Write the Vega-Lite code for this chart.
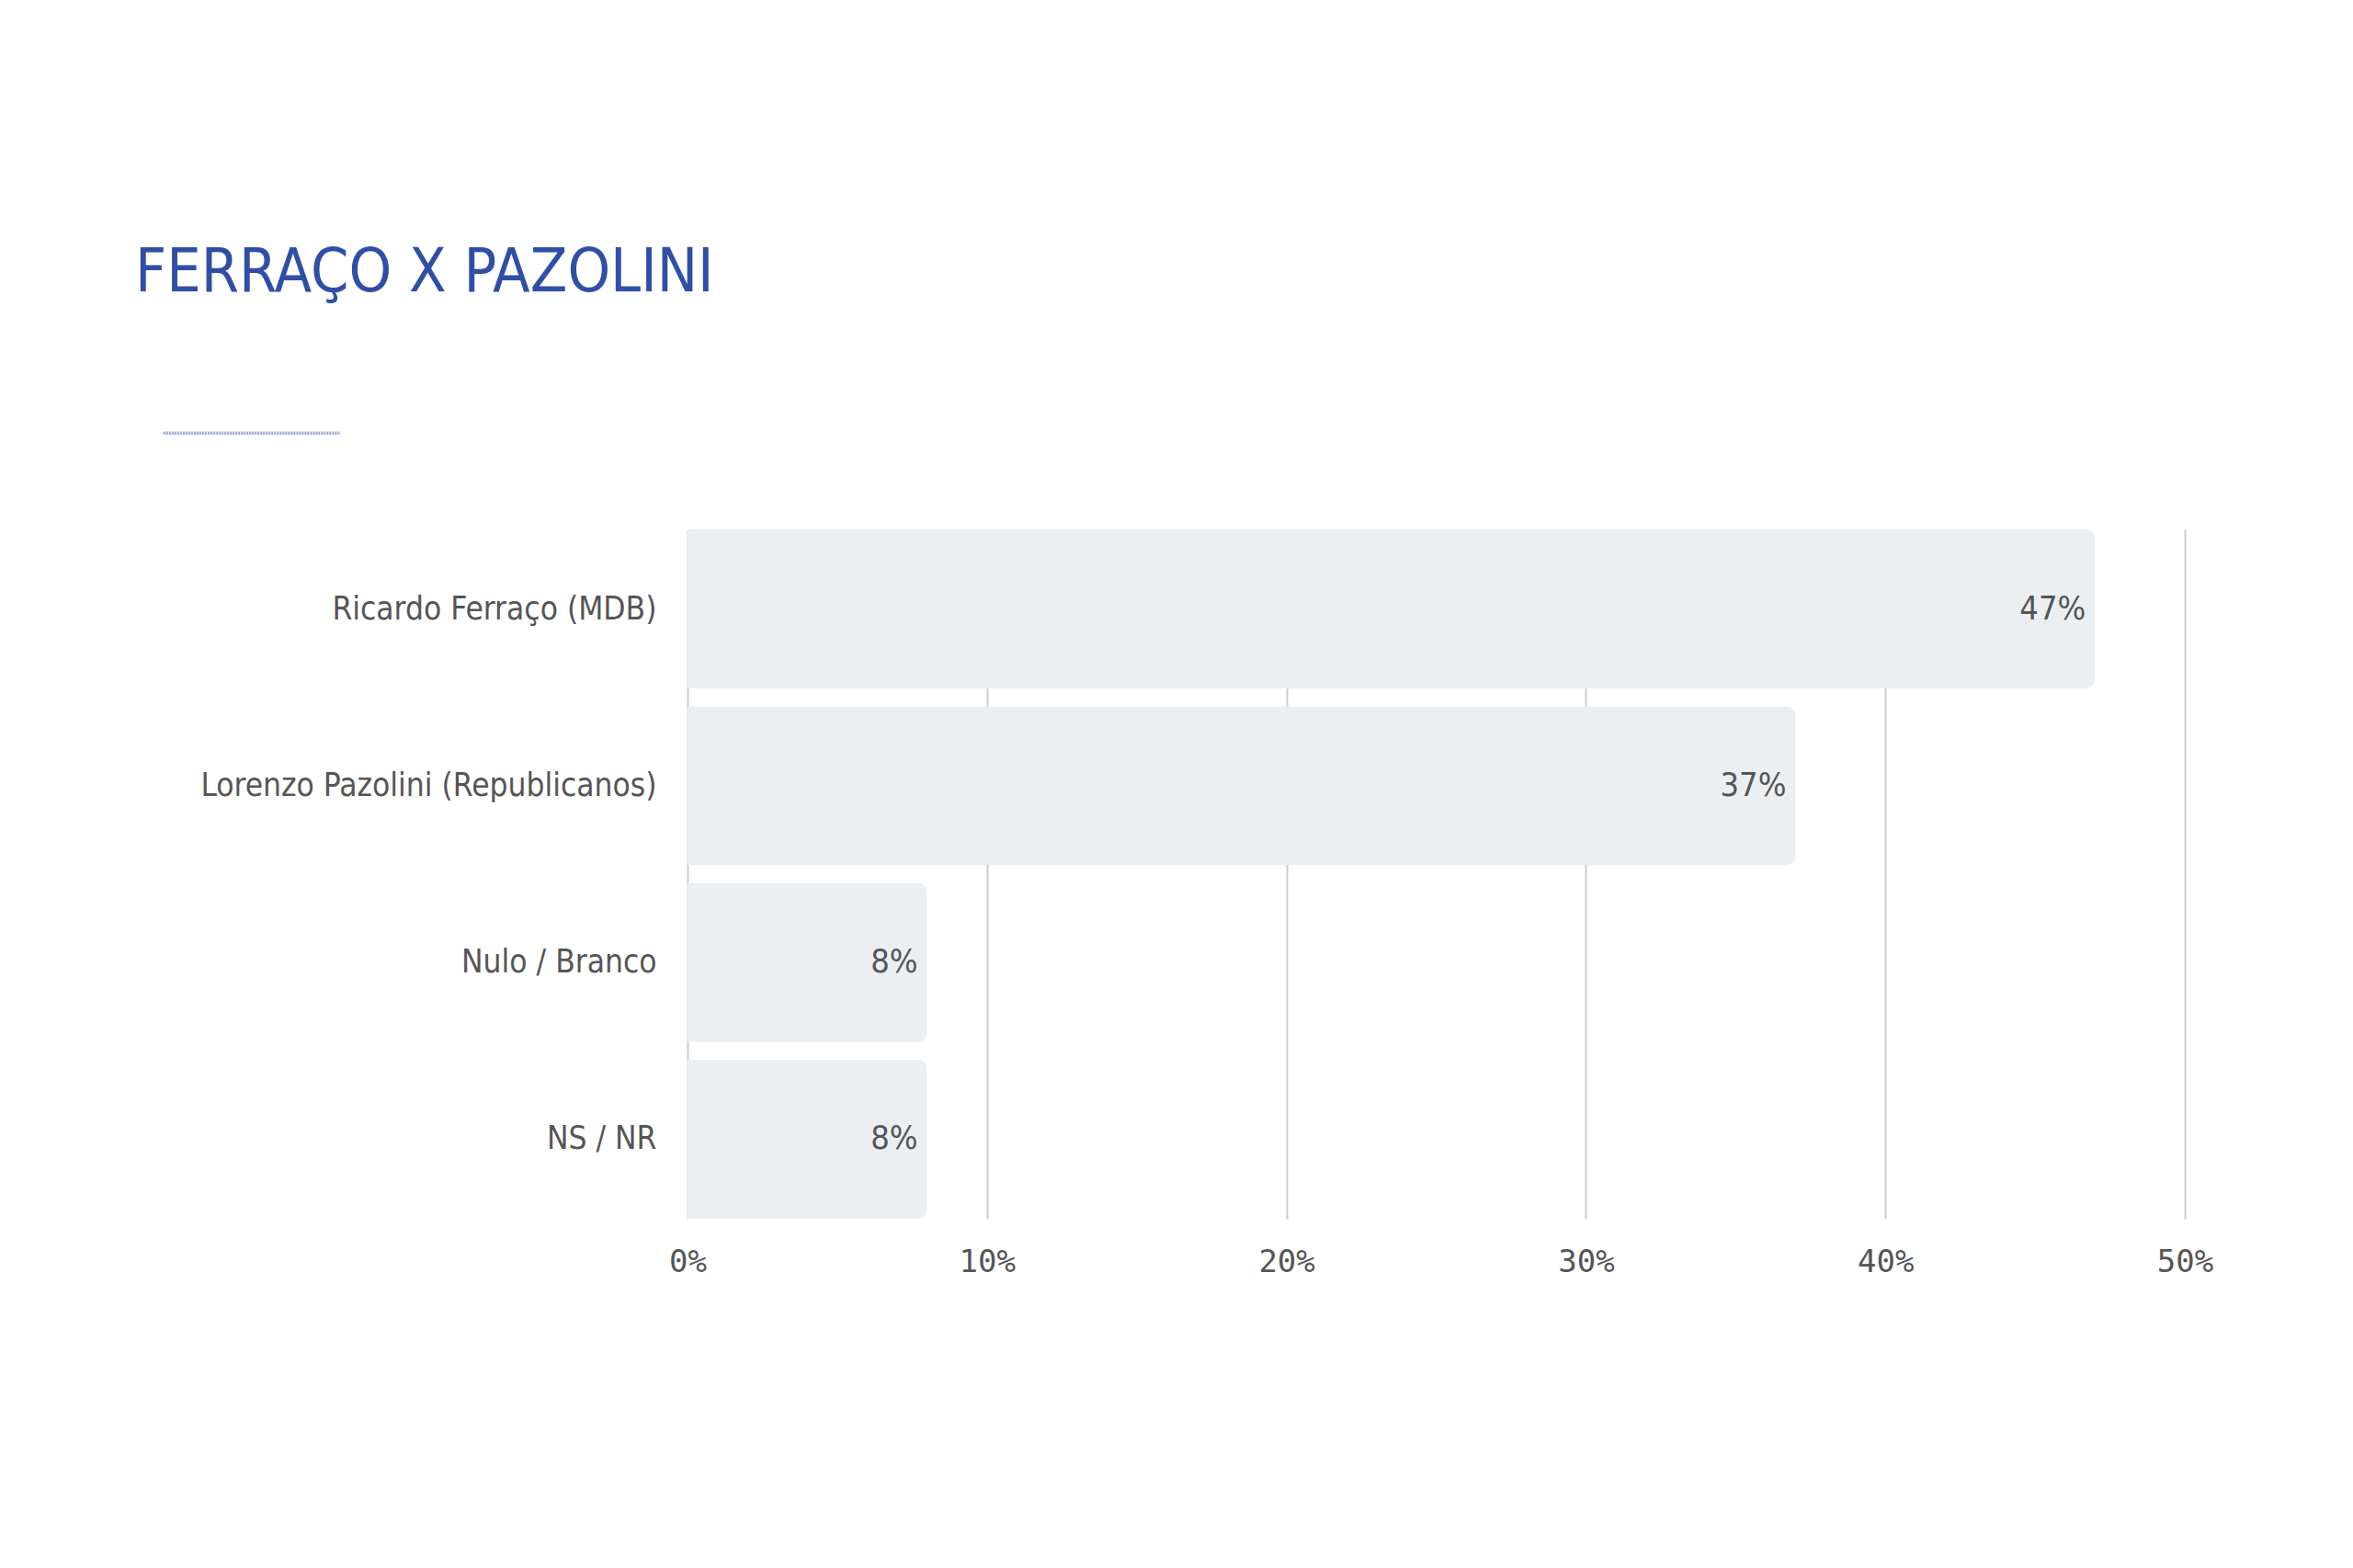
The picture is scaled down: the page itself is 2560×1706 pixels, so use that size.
{
  "$schema": "https://vega.github.io/schema/vega-lite/v6.json",
  "autosize": "none",
  "width": 1629,
  "height": 750,
  "padding": {"left": 748, "top": 576, "right": 183, "bottom": 380},
  "background": "white",
  "title": {
    "text": "FERRAÇO X PAZOLINI",
    "subtitle": "\u2800\u2800┉┉┉┉┉┉┉┉┉┉┉┉┉┉┉┉",
    "anchor": "start",
    "frame": "group",
    "dx": -601,
    "offset": 93,
    "font": "DejaVu Sans Condensed",
    "fontSize": 66,
    "fontWeight": "normal",
    "color": "#2f4ea6",
    "subtitleFont": "DejaVu Sans Mono",
    "subtitleFontSize": 20,
    "subtitleColor": "#9aa9d6",
    "subtitlePadding": 131
  },
  "data": {
    "values": [
      {"opcao": "Ricardo Ferraço (MDB)", "pct": 0.47},
      {"opcao": "Lorenzo Pazolini (Republicanos)", "pct": 0.37},
      {"opcao": "Nulo / Branco", "pct": 0.08},
      {"opcao": "NS / NR", "pct": 0.08}
    ]
  },
  "encoding": {
    "y": {
      "field": "opcao",
      "type": "nominal",
      "sort": null,
      "scale": {"paddingInner": 0.1, "paddingOuter": 0},
      "axis": {
        "title": null,
        "domain": false,
        "ticks": false,
        "tickSize": 0,
        "labelPadding": 34,
        "labelLimit": 0,
        "labelFont": "DejaVu Sans Condensed",
        "labelFontSize": 35,
        "labelColor": "#555555"
      }
    },
    "x": {
      "field": "pct",
      "type": "quantitative",
      "scale": {"domain": [0, 0.5], "nice": false},
      "axis": {
        "title": null,
        "domain": false,
        "ticks": false,
        "tickSize": 0,
        "values": [0, 0.1, 0.2, 0.3, 0.4, 0.5],
        "format": ".0%",
        "labelFlush": false,
        "labelPadding": 30,
        "labelFont": "DejaVu Sans Mono",
        "labelFontSize": 34,
        "labelColor": "#555555",
        "grid": true,
        "gridColor": "#cccccc",
        "gridWidth": 2
      }
    }
  },
  "layer": [
    {
      "mark": {"type": "bar", "color": "#eceff1", "cornerRadiusEnd": 10}
    },
    {
      "mark": {
        "type": "text",
        "align": "right",
        "baseline": "middle",
        "dx": -10,
        "font": "DejaVu Sans Condensed",
        "fontSize": 36,
        "color": "#555555"
      },
      "encoding": {
        "text": {"field": "pct", "type": "quantitative", "format": ".0%"}
      }
    }
  ],
  "config": {
    "view": {"stroke": null}
  }
}
